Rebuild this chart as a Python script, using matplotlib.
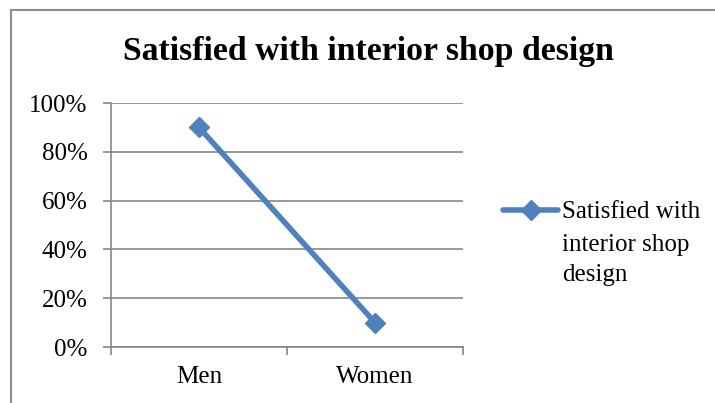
import matplotlib.pyplot as plt
from matplotlib.patches import Rectangle
from matplotlib.ticker import PercentFormatter

plt.rcParams['font.family'] = ['Liberation Serif', 'DejaVu Serif']

categories = ['Men', 'Women']
satisfied = [0.90, 0.10]
series_name = ['Satisfied with', 'interior shop', 'design']
title = 'Satisfied with interior shop design'

blue = '#4F81BD'
grey = '#868686'

fig = plt.figure(figsize=(7.15, 4.03), dpi=100)
# outer chart frame (right/bottom edges run past the image)
fig.patches.append(Rectangle((11 / 715, -0.1), 1.2, 1.1 - 10 / 403, transform=fig.transFigure,
                             fill=False, edgecolor='#8c8c8c', linewidth=1.5))

ax = fig.add_axes([111 / 715, 1 - 347 / 403, (463 - 111) / 715, (347 - 103) / 403])
x = range(len(categories))
line, = ax.plot(x, satisfied, color=blue, linewidth=4, marker='D', markersize=10,
                solid_capstyle='round')

ax.set_xlim(-0.5, 1.5)
ax.set_ylim(0, 1)
ax.set_yticks([0, 0.2, 0.4, 0.6, 0.8, 1.0])
ax.yaxis.set_major_formatter(PercentFormatter(1.0, decimals=0))
ax.set_xticks(list(x))
ax.set_xticklabels(categories)
ax.set_xticks([-0.5, 0.5, 1.5], minor=True)
ax.tick_params(axis='x', which='major', length=0, pad=14, labelsize=18)
ax.tick_params(axis='x', which='minor', length=6, color=grey, width=1.2)
ax.tick_params(axis='y', length=6, color=grey, width=1.2, pad=11, labelsize=18)
ax.grid(axis='y', color=grey, linewidth=1.2)
for s in ['top', 'right']:
    ax.spines[s].set_visible(False)
for s in ['left', 'bottom']:
    ax.spines[s].set_color(grey)
    ax.spines[s].set_linewidth(1.2)
ax.set_axisbelow(True)

fig.text(368 / 715, 1 - 60 / 403, title, ha='center', va='baseline',
         fontsize=24.3, fontweight='bold')

# legend: marker sits on the first line of the label, the rest wraps below
leg = fig.legend([line], [series_name[0]], loc='center left',
                 bbox_to_anchor=(493 / 715, 1 - 212 / 403), frameon=False,
                 fontsize=18, handlelength=2.2, handletextpad=0.15, borderaxespad=0)
fig.canvas.draw()
bb = leg.get_texts()[0].get_window_extent().transformed(fig.transFigure.inverted())
for i, txt in enumerate(series_name[1:]):
    fig.text(bb.x0, 1 - (251 + 30 * i) / 403, txt, ha='left', va='baseline', fontsize=18)

fig.savefig('out.png', dpi=100)
